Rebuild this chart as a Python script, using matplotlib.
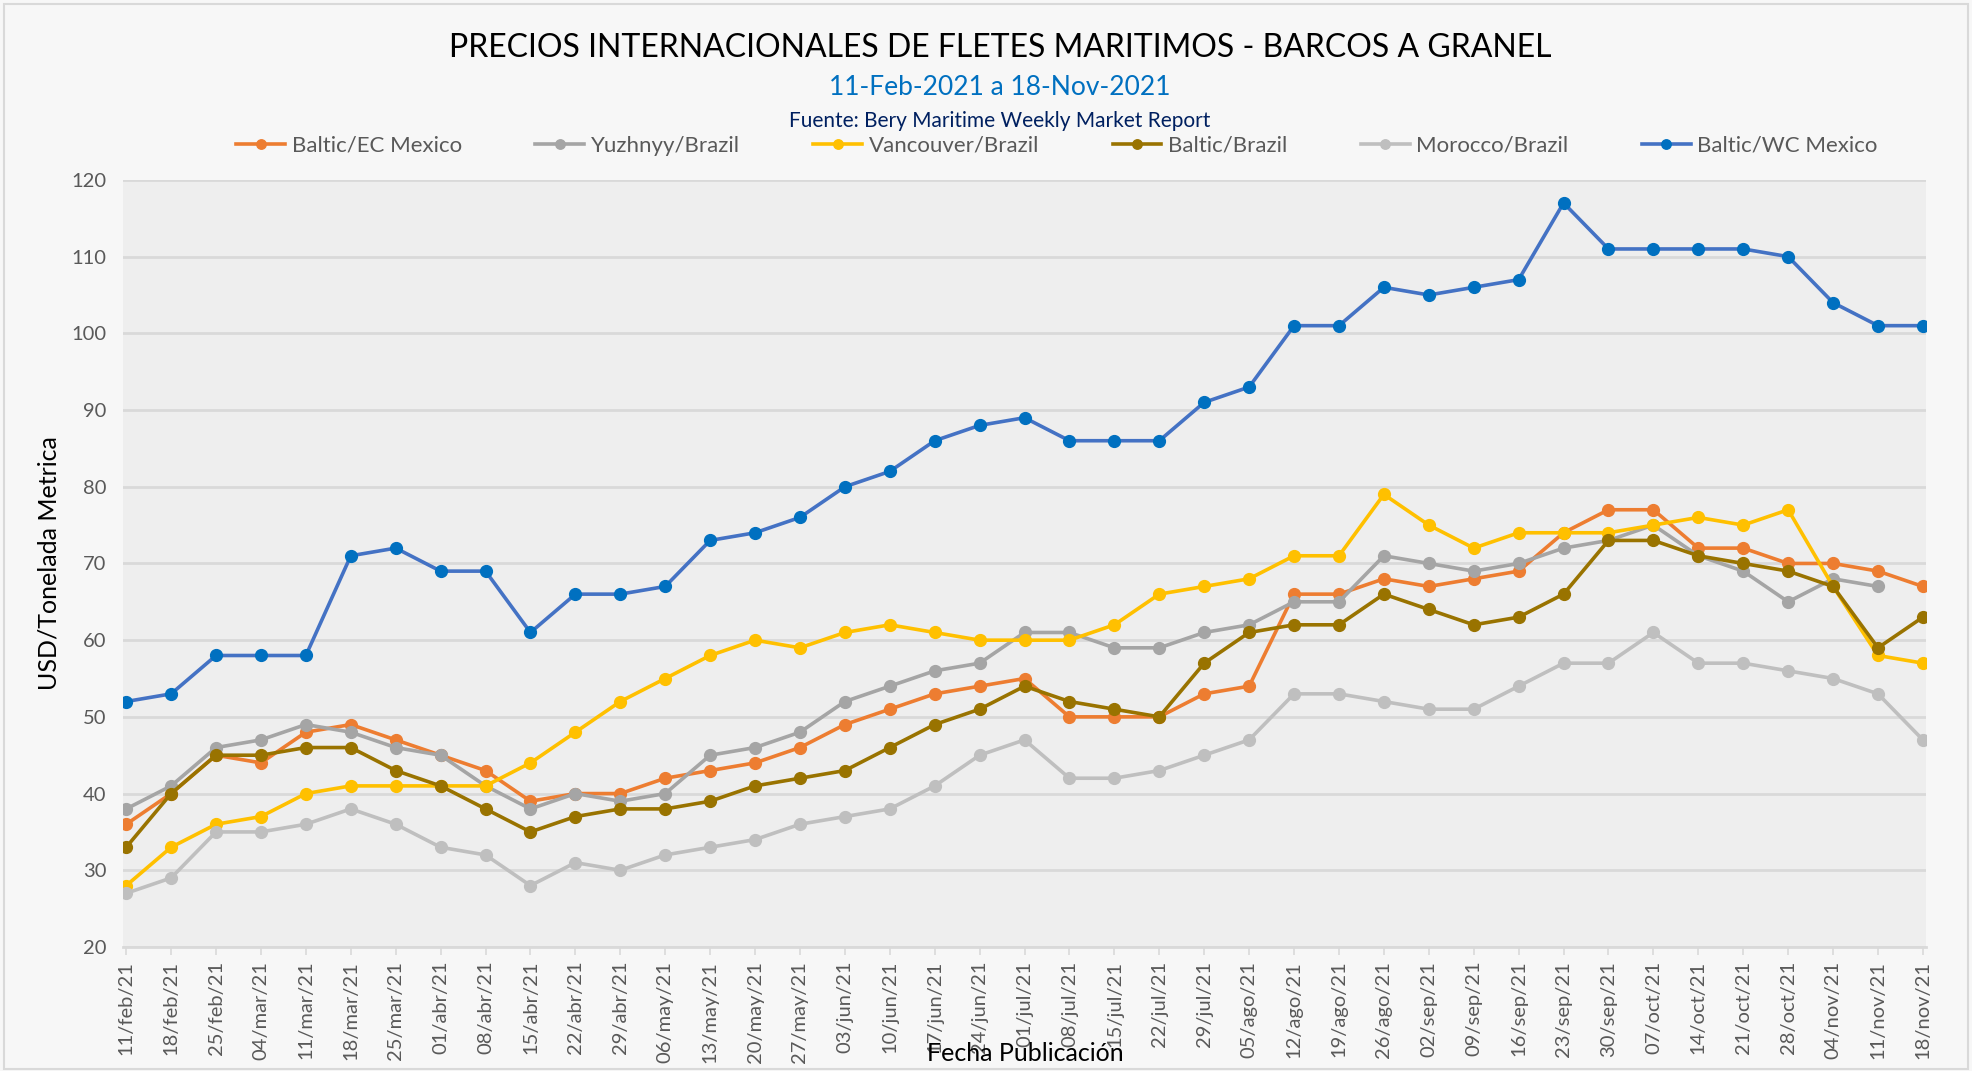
import numpy as np
import matplotlib
matplotlib.use("Agg")
import matplotlib.pyplot as plt
from matplotlib.patches import Rectangle

plt.rcParams['font.family'] = ['Lato', 'DejaVu Sans']

# Fechas de publicacion (semanales)
fechas = ["11/feb/21", "18/feb/21", "25/feb/21", "04/mar/21", "11/mar/21", "18/mar/21",
          "25/mar/21", "01/abr/21", "08/abr/21", "15/abr/21", "22/abr/21", "29/abr/21",
          "06/may/21", "13/may/21", "20/may/21", "27/may/21", "03/jun/21", "10/jun/21",
          "17/jun/21", "24/jun/21", "01/jul/21", "08/jul/21", "15/jul/21", "22/jul/21",
          "29/jul/21", "05/ago/21", "12/ago/21", "19/ago/21", "26/ago/21", "02/sep/21",
          "09/sep/21", "16/sep/21", "23/sep/21", "30/sep/21", "07/oct/21", "14/oct/21",
          "21/oct/21", "28/oct/21", "04/nov/21", "11/nov/21", "18/nov/21"]

baltic_ec_mexico = [36, 40, 45, 44, 48, 49, 47, 45, 43, 39, 40, 40, 42, 43, 44, 46, 49, 51, 53, 54,
                    55, 50, 50, 50, 53, 54, 66, 66, 68, 67, 68, 69, 74, 77, 77, 72, 72, 70, 70, 69, 67]
yuzhnyy_brazil = [38, 41, 46, 47, 49, 48, 46, 45, 41, 38, 40, 39, 40, 45, 46, 48, 52, 54, 56, 57,
                  61, 61, 59, 59, 61, 62, 65, 65, 71, 70, 69, 70, 72, 73, 75, 71, 69, 65, 68, 67, None]
vancouver_brazil = [28, 33, 36, 37, 40, 41, 41, 41, 41, 44, 48, 52, 55, 58, 60, 59, 61, 62, 61, 60,
                    60, 60, 62, 66, 67, 68, 71, 71, 79, 75, 72, 74, 74, 74, 75, 76, 75, 77, 67, 58, 57]
baltic_brazil = [33, 40, 45, 45, 46, 46, 43, 41, 38, 35, 37, 38, 38, 39, 41, 42, 43, 46, 49, 51,
                 54, 52, 51, 50, 57, 61, 62, 62, 66, 64, 62, 63, 66, 73, 73, 71, 70, 69, 67, 59, 63]
morocco_brazil = [27, 29, 35, 35, 36, 38, 36, 33, 32, 28, 31, 30, 32, 33, 34, 36, 37, 38, 41, 45,
                  47, 42, 42, 43, 45, 47, 53, 53, 52, 51, 51, 54, 57, 57, 61, 57, 57, 56, 55, 53, 47]
baltic_wc_mexico = [52, 53, 58, 58, 58, 71, 72, 69, 69, 61, 66, 66, 67, 73, 74, 76, 80, 82, 86, 88,
                    89, 86, 86, 86, 91, 93, 101, 101, 106, 105, 106, 107, 117, 111, 111, 111, 111,
                    110, 104, 101, 101]

series = [
    ("Baltic/EC Mexico", baltic_ec_mexico, "#ED7D31", "#ED7D31"),
    ("Yuzhnyy/Brazil", yuzhnyy_brazil, "#A5A5A5", "#A5A5A5"),
    ("Vancouver/Brazil", vancouver_brazil, "#FFC000", "#FFC000"),
    ("Baltic/Brazil", baltic_brazil, "#997300", "#997300"),
    ("Morocco/Brazil", morocco_brazil, "#BFBFBF", "#BFBFBF"),
    ("Baltic/WC Mexico", baltic_wc_mexico, "#4472C4", "#0070C0"),
]

fig = plt.figure(figsize=(19.72, 10.71), dpi=100, facecolor="#F7F7F7")
ax = fig.add_axes([0.0624, 0.1158, 0.9143, 0.7162])
ax.set_facecolor("#EEEEEE")

x = np.arange(len(fechas))
handles = []
for name, vals, lc, mc in series:
    y = np.array([np.nan if v is None else v for v in vals], dtype=float)
    h, = ax.plot(x, y, color=lc, lw=2.6, marker="o", ms=8.5,
                 markerfacecolor=mc, markeredgecolor=mc, label=name)
    handles.append(h)

ax.set_ylim(20, 120)
ax.set_yticks(np.arange(20, 121, 10))
ax.set_xlim(-0.07, len(fechas) - 1 + 0.07)
ax.set_xticks(x)
ax.set_xticklabels(fechas, rotation=90, fontsize=14.5, color="#595959")
ax.tick_params(axis="y", length=0, labelsize=14.5, labelcolor="#595959", pad=12)
ax.tick_params(axis="x", length=6, color="#D9D9D9", width=1.2, pad=4)
ax.grid(axis="y", color="#D9D9D9", lw=2)
ax.set_axisbelow(True)
for s in ["top", "right", "left"]:
    ax.spines[s].set_visible(False)
ax.spines["bottom"].set_color("#D9D9D9")
ax.spines["bottom"].set_linewidth(2)

ax.set_ylabel("USD/Tonelada Metrica", fontsize=18, color="#000000", labelpad=8)
fig.text(0.52, 0.016, "Fecha Publicación", ha="center", va="center", fontsize=18)

fig.text(0.507, 0.955, "PRECIOS INTERNACIONALES DE FLETES MARITIMOS - BARCOS A GRANEL",
         ha="center", va="center", fontsize=23)
fig.text(0.507, 0.918, "11-Feb-2021 a 18-Nov-2021", ha="center", va="center",
         fontsize=19, color="#0070C0")
fig.text(0.507, 0.887, "Fuente: Bery Maritime Weekly Market Report", ha="center", va="center",
         fontsize=15, color="#002060")

fig.legend(handles=handles, loc="center", bbox_to_anchor=(0.536, 0.864), ncol=6,
           frameon=False, fontsize=16, labelcolor="#595959", handlelength=2.2,
           handletextpad=0.3, columnspacing=3.3, markerscale=0.8)

fig.patches.append(Rectangle((0.002, 0.002), 0.996, 0.994, transform=fig.transFigure,
                             fill=False, edgecolor="#D9D9D9", lw=1.5))

fig.savefig("out.png", dpi=100, facecolor=fig.get_facecolor())
